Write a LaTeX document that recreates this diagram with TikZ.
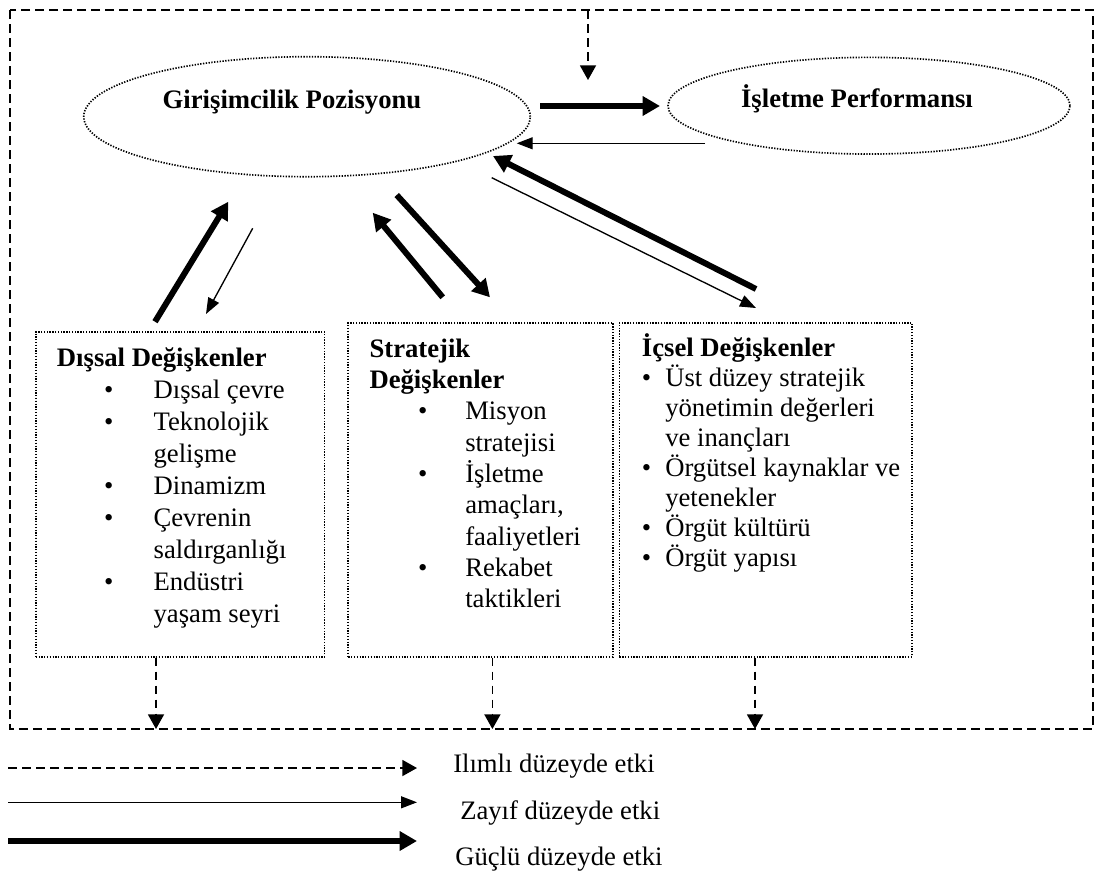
\documentclass[tikz,border=0pt]{standalone}
\usepackage{fontspec}
\setmainfont{Liberation Serif}
\usetikzlibrary{arrows.meta,shapes.geometric}

% bullet item: indent of the bullet, width of the bullet column, item text
\newcommand{\bitem}[3]{\hbox{\hspace*{#1}\makebox[#2][l]{\textbullet}#3}}
% continuation line of an item
\newcommand{\contline}[2]{\hbox{\hspace*{#1}#2}}
% stack of lines whose reference point is the first baseline
\newcommand{\linestack}[2]{\vtop{\baselineskip=#1\relax #2}}

\begin{document}
\begin{tikzpicture}[x=0.75pt,y=-0.75pt,
  frameline/.style={line width=1.3pt,dash pattern=on 6.5pt off 4pt},
  dotline/.style={line width=1.25pt,dash pattern=on 1pt off 1.1pt},
  modarrow/.style={frameline,-{Triangle[length=11pt,width=12pt]}},
  weakarrow/.style={line width=1pt,-{Triangle[length=12pt,width=9pt]}},
  strongarrow/.style={line width=4.5pt,-{Triangle[length=13pt,width=14pt]}},
  concept/.style={ellipse,draw,dotline,inner sep=0pt},
  varbox/.style={rectangle,draw,dotline,inner sep=0pt},
  title/.style={font=\fontsize{20pt}{24pt}\selectfont\bfseries,inner sep=0pt,anchor=base},
  boxtext/.style={font=\fontsize{20pt}{24pt}\selectfont,inner sep=0pt,anchor=base west},
  legendtext/.style={font=\fontsize{20pt}{24pt}\selectfont,inner sep=0pt,anchor=base west}
]
\useasboundingbox (0,0) rectangle (1095,872);

% outer dashed frame
\draw[frameline] (10,10) rectangle (1093,729);

% the two concepts
\node[concept,minimum width=334.9pt,minimum height=90pt] (gp) at (307,116.7) {};
\node[title] (gpt) at (292,108) {Girişimcilik Pozisyonu};
\node[concept,minimum width=301.5pt,minimum height=72.5pt] (ip) at (869,105.7) {};
\node[title] (ipt) at (857,107) {İşletme Performansı};

% the three groups of variables
\node[varbox,minimum width=216.6pt,minimum height=243.75pt] (dis) at (180.1,494.2) {};
\node[varbox,minimum width=198.3pt,minimum height=250.5pt] (str) at (480.5,489.7) {};
\node[varbox,minimum width=219.4pt,minimum height=250.5pt] (ic) at (765.75,489.7) {};

\node[boxtext] (dist) at (56.7,366.7) {\linestack{24pt}{%
  \hbox{\bfseries Dışsal Değişkenler}
  \bitem{35.3pt}{37.2pt}{Dışsal çevre}
  \bitem{35.3pt}{37.2pt}{Teknolojik}
  \contline{72.5pt}{gelişme}
  \bitem{35.3pt}{37.2pt}{Dinamizm}
  \bitem{35.3pt}{37.2pt}{Çevrenin}
  \contline{72.5pt}{saldırganlığı}
  \bitem{35.3pt}{37.2pt}{Endüstri}
  \contline{72.5pt}{yaşam seyri}}};

\node[boxtext] (strt) at (369.3,357.3) {\linestack{23.5pt}{%
  \hbox{\bfseries Stratejik}
  \hbox{\bfseries Değişkenler}
  \bitem{36.5pt}{35.3pt}{Misyon}
  \contline{71.8pt}{stratejisi}
  \bitem{36.5pt}{35.3pt}{İşletme}
  \contline{71.8pt}{amaçları,}
  \contline{71.8pt}{faaliyetleri}
  \bitem{36.5pt}{35.3pt}{Rekabet}
  \contline{71.8pt}{taktikleri}}};

\node[boxtext] (ict) at (641.7,356.7) {\linestack{22.5pt}{%
  \hbox{\bfseries İçsel Değişkenler}
  \bitem{0pt}{17.5pt}{Üst düzey stratejik}
  \contline{17.5pt}{yönetimin değerleri}
  \contline{17.5pt}{ve inançları}
  \bitem{0pt}{17.5pt}{Örgütsel kaynaklar ve}
  \contline{17.5pt}{yetenekler}
  \bitem{0pt}{17.5pt}{Örgüt kültürü}
  \bitem{0pt}{17.5pt}{Örgüt yapısı}}};

% end points of the influence arrows
\coordinate (ft) at (588,10);
\coordinate (ftip) at (588,80);
\coordinate (gp-a) at (540,106);   \coordinate (ip-a) at (660,106);
\coordinate (ip-b) at (705,143.3); \coordinate (gp-b) at (516.7,143.3);
\coordinate (ic-a) at (756,289);   \coordinate (gp-c) at (493,156);
\coordinate (gp-d) at (491.7,177.7); \coordinate (ic-b) at (756,308);
\coordinate (dis-a) at (155,321.7); \coordinate (gp-e) at (228.3,201.7);
\coordinate (gp-f) at (252.7,228.3); \coordinate (dis-b) at (206,314);
\coordinate (str-a) at (442.7,297.3); \coordinate (gp-g) at (372.7,212.7);
\coordinate (gp-h) at (396.7,195);  \coordinate (str-b) at (490,297.3);
\coordinate (fb1) at (156,729);
\coordinate (fb2) at (492.4,729);
\coordinate (fb3) at (755,729);

% moderate influences (dashed)
\draw[modarrow] (ft) -- (ftip);
\draw[modarrow] (dis.south -| fb1) -- (fb1);
\draw[modarrow] (str.south -| fb2) -- (fb2);
\draw[modarrow] (ic.south -| fb3) -- (fb3);

% strong influences
\draw[strongarrow] (gp-a) -- (ip-a);
\draw[strongarrow] (ic-a) -- (gp-c);
\draw[strongarrow] (dis-a) -- (gp-e);
\draw[strongarrow] (str-a) -- (gp-g);
\draw[strongarrow] (gp-h) -- (str-b);

% weak influences
\draw[weakarrow] (ip-b) -- (gp-b);
\draw[weakarrow] (gp-d) -- (ic-b);
\draw[weakarrow] (gp-f) -- (dis-b);

% legend
\node[legendtext] (lg1) at (453,772.5) {Ilımlı düzeyde etki};
\node[legendtext] (lg2) at (460,819) {Zayıf düzeyde etki};
\node[legendtext] (lg3) at (455,865) {Güçlü düzeyde etki};
\coordinate (lm0) at (8,768);   \coordinate (lm1) at (417,768);
\coordinate (lw0) at (8,802.3); \coordinate (lw1) at (417,802.3);
\coordinate (ls0) at (8,841);   \coordinate (ls1) at (417,841);
\draw[modarrow] (lm0) -- (lm1);
\draw[weakarrow] (lw0) -- (lw1);
\draw[strongarrow] (ls0) -- (ls1);
\end{tikzpicture}
\end{document}
